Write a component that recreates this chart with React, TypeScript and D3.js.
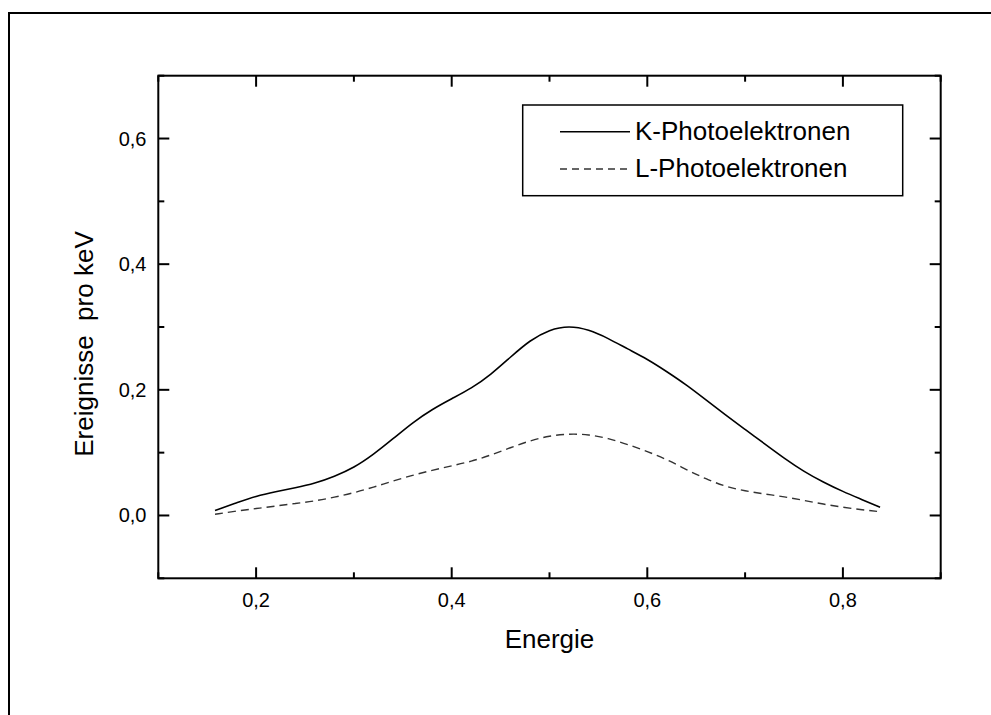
import React from "react";
import * as d3 from "d3";

const energy = [0.158, 0.18, 0.2, 0.22, 0.24, 0.26, 0.28, 0.3, 0.32, 0.34, 0.36, 0.38, 0.4, 0.42, 0.44, 0.46, 0.48, 0.5, 0.52, 0.54, 0.56, 0.58, 0.6, 0.62, 0.64, 0.66, 0.68, 0.7, 0.72, 0.74, 0.76, 0.78, 0.8, 0.82, 0.838];
const kPhoto = [0.008, 0.02, 0.031, 0.038, 0.044, 0.051, 0.062, 0.076, 0.097, 0.122, 0.148, 0.169, 0.186, 0.202, 0.224, 0.252, 0.279, 0.296, 0.302, 0.296, 0.282, 0.265, 0.249, 0.229, 0.208, 0.184, 0.16, 0.137, 0.114, 0.091, 0.07, 0.053, 0.038, 0.025, 0.013];
const lPhoto = [0.002, 0.007, 0.011, 0.015, 0.019, 0.023, 0.029, 0.036, 0.045, 0.055, 0.064, 0.072, 0.079, 0.086, 0.096, 0.108, 0.119, 0.127, 0.13, 0.129, 0.123, 0.113, 0.102, 0.089, 0.073, 0.058, 0.046, 0.039, 0.034, 0.03, 0.024, 0.018, 0.013, 0.009, 0.006];

const xMajor = [0.2, 0.4, 0.6, 0.8];
const xMinor = [0.1, 0.3, 0.5, 0.7, 0.9];
const yMajor = [0.0, 0.2, 0.4, 0.6];
const yMinor = [-0.1, 0.1, 0.3, 0.5, 0.7];
const seriesNames = ["K-Photoelektronen", "L-Photoelektronen"];

const fmt = (v: number) => v.toFixed(1).replace(".", ",");

export default function App() {
  const W = 991, H = 715;
  const left = 158.3, right = 940.7, top = 75.7, bottom = 578.3;
  const x = d3.scaleLinear().domain([0.1, 0.9]).range([left, right]);
  const y = d3.scaleLinear().domain([-0.1, 0.7]).range([bottom, top]);
  const line = d3
    .line<number>()
    .x((_, i) => x(energy[i]))
    .y((d) => y(d))
    .curve(d3.curveBasis);

  const font = "Arial, 'Liberation Sans', Helvetica, sans-serif";
  const majLen = 11, minLen = 6;

  return (
    <svg width={W} height={H} style={{ position: "fixed", left: 0, top: 0, background: "#fff" }} fontFamily={font}>
      <rect x={0} y={0} width={W} height={H} fill="#fff" />
      {/* outer frame */}
      <path d={`M9,${H + 10}V13H${W + 10}`} fill="none" stroke="#000" strokeWidth={2} />

      {/* plot frame */}
      <rect x={left} y={top} width={right - left} height={bottom - top} fill="none" stroke="#000" strokeWidth={2} />

      {/* x ticks */}
      {xMajor.map((t) => (
        <g key={"xM" + t}>
          <line x1={x(t)} x2={x(t)} y1={bottom} y2={bottom - majLen} stroke="#000" strokeWidth={2} />
          <line x1={x(t)} x2={x(t)} y1={top} y2={top + majLen} stroke="#000" strokeWidth={2} />
          <text x={x(t)} y={607} textAnchor="middle" fontSize={20}>{fmt(t)}</text>
        </g>
      ))}
      {xMinor.map((t) => (
        <g key={"xm" + t}>
          <line x1={x(t)} x2={x(t)} y1={bottom} y2={bottom - minLen} stroke="#000" strokeWidth={2} />
          <line x1={x(t)} x2={x(t)} y1={top} y2={top + minLen} stroke="#000" strokeWidth={2} />
        </g>
      ))}
      {/* y ticks */}
      {yMajor.map((t) => (
        <g key={"yM" + t}>
          <line x1={left} x2={left + majLen} y1={y(t)} y2={y(t)} stroke="#000" strokeWidth={2} />
          <line x1={right} x2={right - majLen} y1={y(t)} y2={y(t)} stroke="#000" strokeWidth={2} />
          <text x={146.5} y={y(t) + 7} textAnchor="end" fontSize={20}>{fmt(t)}</text>
        </g>
      ))}
      {yMinor.map((t) => (
        <g key={"ym" + t}>
          <line x1={left} x2={left + minLen} y1={y(t)} y2={y(t)} stroke="#000" strokeWidth={2} />
          <line x1={right} x2={right - minLen} y1={y(t)} y2={y(t)} stroke="#000" strokeWidth={2} />
        </g>
      ))}

      {/* axis titles */}
      <text x={(left + right) / 2} y={647.5} textAnchor="middle" fontSize={26}>Energie</text>
      <text transform="translate(93,344) rotate(-90)" textAnchor="middle" fontSize={26} style={{ whiteSpace: "pre" }}>
        {"Ereignisse  pro keV"}
      </text>

      {/* curves */}
      <path d={line(kPhoto) || ""} fill="none" stroke="#000" strokeWidth={1.6} />
      <path d={line(lPhoto) || ""} fill="none" stroke="#333" strokeWidth={1.4} strokeDasharray="8,5" />

      {/* legend */}
      <rect x={522.7} y={105} width={380} height={90.7} fill="#fff" stroke="#000" strokeWidth={1.5} />
      <line x1={560} x2={630} y1={131.7} y2={131.7} stroke="#000" strokeWidth={1.6} />
      <line x1={560} x2={630} y1={169} y2={169} stroke="#333" strokeWidth={1.4} strokeDasharray="7,5" />
      <text x={635} y={140} fontSize={26}>{seriesNames[0]}</text>
      <text x={635} y={177.3} fontSize={26}>{seriesNames[1]}</text>
    </svg>
  );
}
